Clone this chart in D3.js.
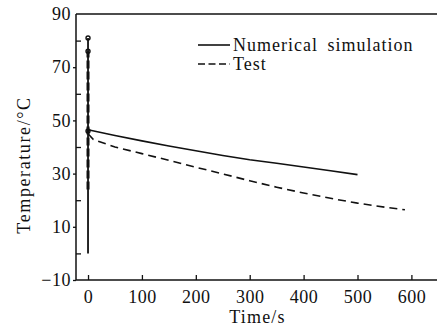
<!DOCTYPE html>
<html><head><meta charset="utf-8">
<script src="https://cdn.jsdelivr.net/npm/d3@7"></script>
<style>
body{margin:0;background:#fff;}
text{font-family:"Liberation Serif","Times New Roman",serif;fill:#111;}
</style></head>
<body><svg id="c" width="437" height="327"></svg>
<script>
// Data
const simTime = [0, 50, 100, 150, 200, 250, 300, 350, 400, 450, 500];
const simTemp = [46.5, 44.3, 42.3, 40.4, 38.6, 36.8, 35.2, 33.9, 32.5, 31.1, 29.6];
const testTime = [0, 10, 50, 100, 150, 200, 250, 300, 350, 400, 450, 500, 550, 588];
const testTemp = [45, 42.8, 40, 37.5, 35, 32.4, 29.9, 27.3, 24.9, 22.7, 20.7, 18.9, 17.4, 16.4];
const simRiseTemp = [0, 81];           // vertical heating segment at t = 0
const testRiseTemp = [24, 76];
const markerTemp = [81, 76, 46];
const xTicks = [0, 100, 200, 300, 400, 500, 600];
const yMajor = [90, 70, 50, 30, 10, -10];
const yMinor = [80, 60, 40, 20, 0];
const legendLabels = ["Numerical simulation", "Test"];

const svg = d3.select("#c");
const L = 76, R = 437, T = 14, B = 280;
const x = d3.scaleLinear().domain([-22.3, 647.5]).range([L, R]);
const y = d3.scaleLinear().domain([-10, 90]).range([B, T]);
const ink = "#111";
const FF = "Liberation Serif, Times New Roman, serif";

// Frame: left axis, bottom axis, top line
svg.append("line").attr("x1", L).attr("x2", R).attr("y1", T).attr("y2", T).attr("stroke", ink).attr("stroke-width", 1.5);

const yAx = svg.append("g").attr("transform", `translate(${L},0)`)
  .call(d3.axisLeft(y).tickValues(yMajor).tickSize(3).tickPadding(2).tickFormat(d => d < 0 ? "\u2212" + Math.abs(d) : d));
yAx.attr("font-family", FF);
yAx.select(".domain").attr("stroke", ink).attr("stroke-width", 1.5).attr("d", `M0,${T}V${B}`);
yAx.selectAll(".tick line").attr("stroke", ink).attr("stroke-width", 1.3);
yAx.selectAll(".tick text").attr("font-family", FF).attr("font-size", 18).attr("letter-spacing", 0.5).attr("fill", ink);
yAx.selectAll(".tick").filter(d => d === 90).select("line").remove();

const yMin = svg.append("g").attr("transform", `translate(${L},0)`)
  .call(d3.axisRight(y).tickValues(yMinor).tickSize(5).tickFormat(""));
yMin.select(".domain").remove();
yMin.selectAll(".tick line").attr("stroke", ink).attr("stroke-width", 1.3);

const xAx = svg.append("g").attr("transform", `translate(0,${B})`)
  .call(d3.axisBottom(x).tickValues(xTicks).tickSizeInner(-5).tickSizeOuter(0).tickPadding(10));
xAx.attr("font-family", FF);
xAx.select(".domain").attr("stroke", ink).attr("stroke-width", 1.5).attr("d", `M${L},0H${R}`);
xAx.selectAll(".tick line").attr("stroke", ink).attr("stroke-width", 1.3);
xAx.selectAll(".tick text").attr("font-family", FF).attr("font-size", 18).attr("letter-spacing", 0.5).attr("fill", ink);

// Axis titles
svg.append("text").attr("x", (L + R) / 2 + 1).attr("y", 323).attr("text-anchor", "middle")
  .attr("font-size", 18).attr("letter-spacing", 1.2).text("Time/s");
svg.append("text").attr("transform", `translate(30,${(T + B) / 2 + 18}) rotate(-90)`).attr("text-anchor", "middle")
  .attr("font-size", 18).attr("letter-spacing", 1.6).text("Temperature/\u00B0C");

// Curves
const line = d3.line().x(d => x(d[0])).y(d => y(d[1]));
const simPts = simTime.map((t, i) => [t, simTemp[i]]);
const testPts = testTime.map((t, i) => [t, testTemp[i]]);

svg.append("path").attr("d", line(testRiseTemp.map(v => [0, v]))).attr("fill", "none")
  .attr("stroke", ink).attr("stroke-width", 3).attr("stroke-dasharray", "8,3");
svg.append("path").attr("d", line(testPts)).attr("fill", "none")
  .attr("stroke", ink).attr("stroke-width", 1.6).attr("stroke-dasharray", "8,5");

svg.append("path").attr("d", line(simRiseTemp.map(v => [0, v]))).attr("fill", "none")
  .attr("stroke", ink).attr("stroke-width", 1.8);
svg.append("path").attr("d", line(simPts)).attr("fill", "none")
  .attr("stroke", ink).attr("stroke-width", 1.6);

svg.selectAll("circle.m").data(markerTemp).join("circle").attr("class", "m")
  .attr("cx", x(0)).attr("cy", d => y(d)).attr("r", 2).attr("fill", "none")
  .attr("stroke", ink).attr("stroke-width", 1.4);

// Legend
const lg = svg.append("g");
const lx1 = 198, lx2 = 230;
[[45, null], [64, "7,3.5"]].forEach((s, i) => {
  const l = lg.append("line").attr("x1", lx1).attr("x2", lx2).attr("y1", s[0]).attr("y2", s[0])
    .attr("stroke", ink).attr("stroke-width", 1.6);
  if (s[1]) l.attr("stroke-dasharray", s[1]);
  lg.append("text").attr("x", 233).attr("y", s[0] + 5.5).attr("font-size", 18)
    .attr("letter-spacing", 1.0).attr("word-spacing", 4).text(legendLabels[i]);
});
</script></body></html>
